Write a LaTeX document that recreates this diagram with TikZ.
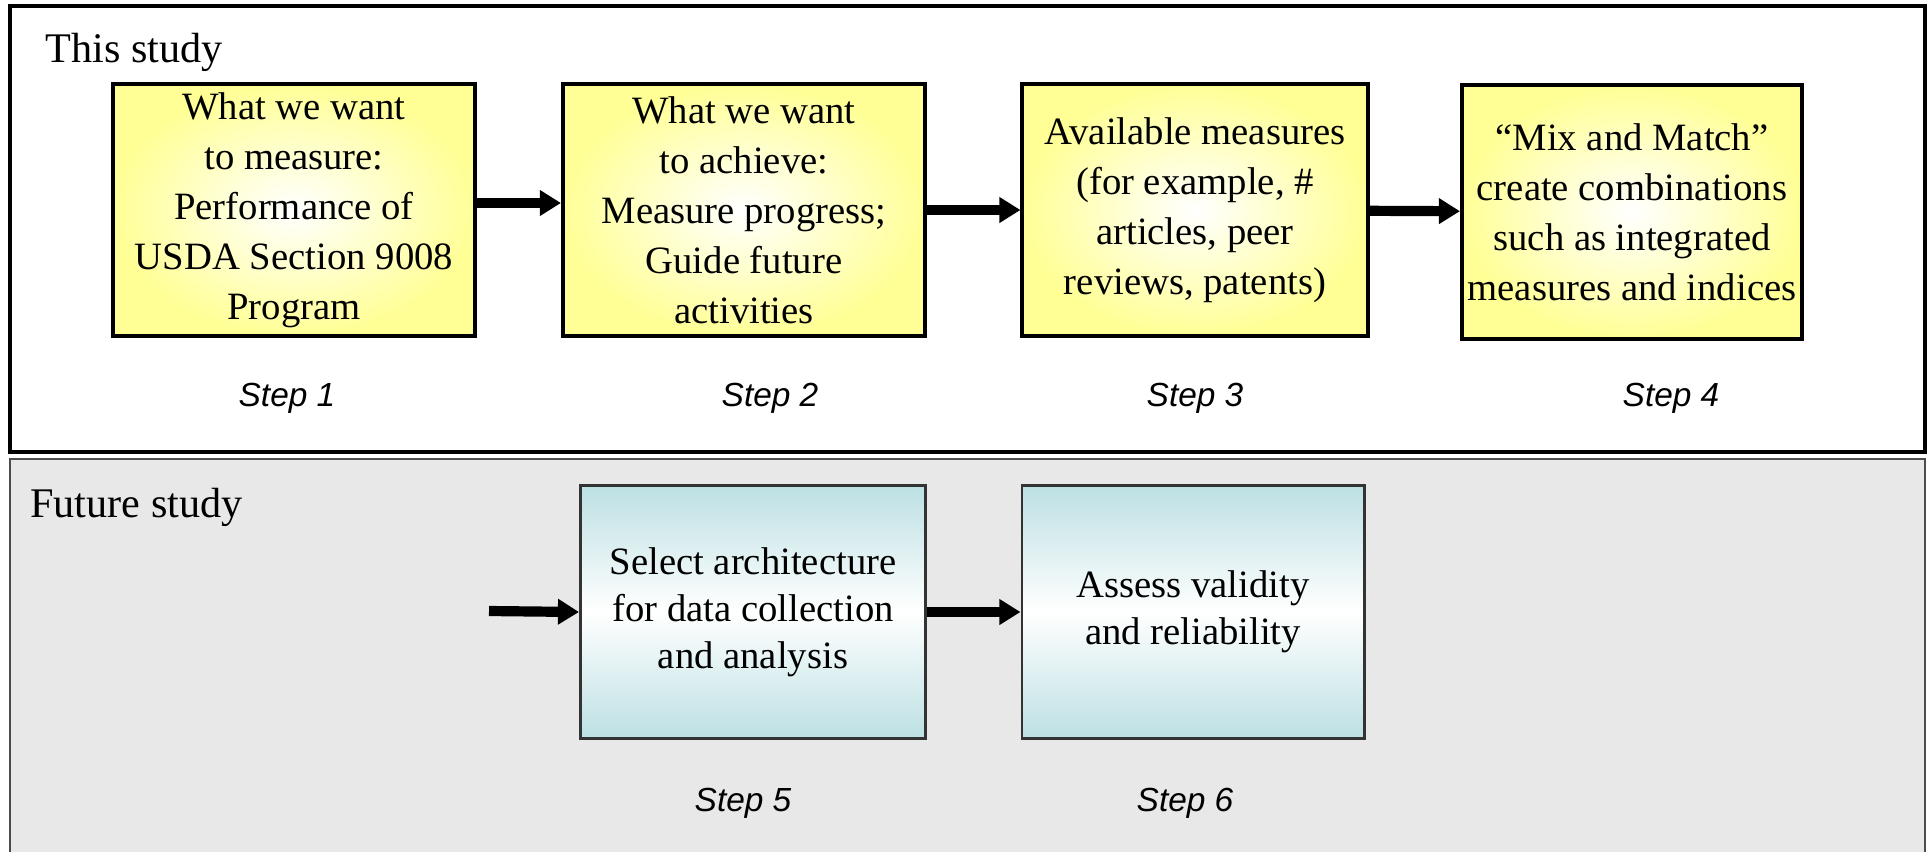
\documentclass[tikz,border=0pt]{standalone}
\usepackage{fontspec}
\setmainfont{Liberation Serif}
\setsansfont{Liberation Sans}
\usetikzlibrary{arrows.meta}
\definecolor{amarillo}{RGB}{255,255,150}
\definecolor{celeste}{RGB}{188,224,227}
\definecolor{gris}{RGB}{232,232,232}

\begin{document}
\begin{tikzpicture}[x=0.01cm, y=-0.01cm,
  caja/.style={draw, line width=1.1pt, inner sep=0pt, align=center,
    minimum width=3.62cm, minimum height=2.52cm,
    font=\fontsize{11}{14.2}\selectfont},
  amarilla/.style={caja, shading=radial, inner color=white, outer color=amarillo},
  azul/.style={caja, draw=black!80, line width=0.8pt, minimum width=3.45cm,
    minimum height=2.53cm, top color=celeste, bottom color=celeste,
    middle color=white, font=\fontsize{11}{13.4}\selectfont},
  paso/.style={font=\sffamily\itshape\fontsize{9.5}{11}\selectfont},
  titulo/.style={anchor=west, font=\fontsize{12}{14}\selectfont},
  flecha/.style={line width=2.9pt, -{Triangle[length=6pt,width=7pt]}}]
  \useasboundingbox (0,0) rectangle (1931,851);
  % el marco de arriba
  \draw[line width=1.2pt] (10,6) rectangle (1925,452);
  % el panel gris de abajo
  \filldraw[fill=gris, draw=black!70, line width=0.6pt] (10,459) rectangle (1925,880);

  \node[titulo] (este) at (33,52) {This study};
  \node[amarilla] (b1) at (294,210) {What we want\\to measure:\\Performance of\\USDA Section 9008\\Program};
  \node[amarilla] (b2) at (744,210) {What we want\\to achieve:\\Measure progress;\\Guide future\\activities};
  \node[amarilla, minimum width=3.45cm] (b3) at (1195,210) {Available measures\\(for example, \#\\articles, peer\\reviews, patents)};
  \node[amarilla, minimum width=3.40cm, minimum height=2.53cm] (b4) at (1632,212) {“Mix and Match”\\create combinations\\such as integrated\\measures and indices};
  \draw[flecha] ([yshift=0.7mm]b1.east) -- ([yshift=0.7mm]b2.west);
  \draw[flecha] (b2) -- (b3);
  \draw[flecha] (b3) -- (b4);
  \node[paso] (p1) at (287,398) {Step 1};
  \node[paso] (p2) at (770,398) {Step 2};
  \node[paso] (p3) at (1195,398) {Step 3};
  \node[paso] (p4) at (1671,398) {Step 4};

  \node[titulo] (futuro) at (18,507) {Future study};
  \coordinate (entra) at (489,611);
  \node[azul] (b5) at (753,612) {Select architecture\\for data collection\\and analysis};
  \node[azul, minimum width=3.42cm] (b6) at (1193,612) {Assess validity\\and reliability};
  \draw[flecha] (entra) -- (b5.west);
  \draw[flecha] (b5) -- (b6);
  \node[paso] (p5) at (743,803) {Step 5};
  \node[paso] (p6) at (1185,803) {Step 6};
\end{tikzpicture}
\end{document}
